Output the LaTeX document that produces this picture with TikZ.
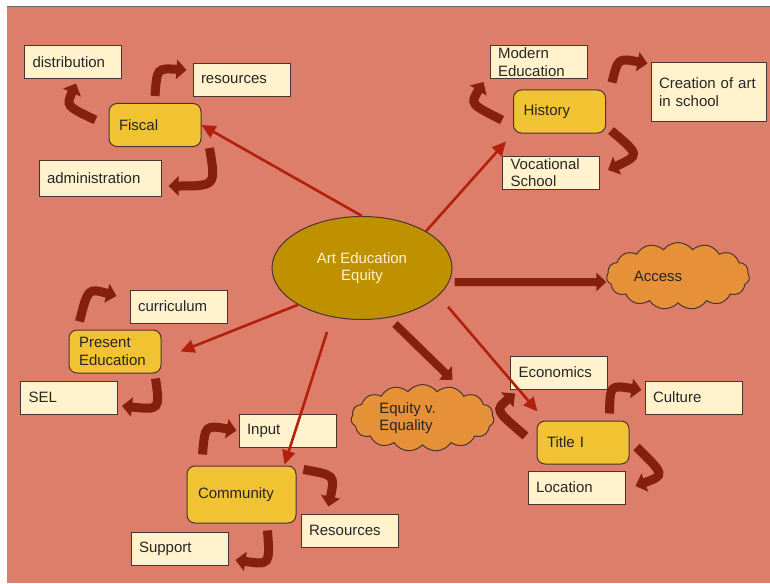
\documentclass[tikz,border=0pt]{standalone}
\usepackage{fontspec}
\setmainfont{Liberation Sans}
\usetikzlibrary{shapes.geometric, shapes.symbols, calc, arrows.meta}
\definecolor{pagecol}{HTML}{DD7E6B}
\definecolor{leafcol}{HTML}{FFF2CC}
\definecolor{topiccol}{HTML}{F1C232}
\definecolor{hubcol}{HTML}{BF9000}
\definecolor{cloudcol}{HTML}{E69138}
\definecolor{bentcol}{HTML}{85200C}
\definecolor{spokecol}{HTML}{B3200C}
\definecolor{edgecol}{HTML}{4A3430}

\begin{document}
\begin{tikzpicture}[x=1pt, y=-1pt, font=\fontsize{15}{17.5}\selectfont, text=black!85,
    leaf/.style={draw=edgecol, line width=1pt, fill=leafcol, inner xsep=8pt, inner ysep=0pt, text width=81pt, minimum height=33pt, align=left},
    topic/.style={draw=edgecol, line width=1pt, fill=topiccol, rounded corners=8pt, inner xsep=10pt, inner ysep=0pt, text width=72pt, minimum height=43pt, align=left},
    puff/.style={cloud, cloud puffs=15, cloud puff arc=105, cloud ignores aspect, draw=edgecol, line width=1pt, fill=cloudcol, inner sep=0pt, minimum width=143pt, minimum height=67pt, align=left},
    spoke/.style={draw=spokecol, line width=2.6pt, -{Triangle[length=14pt, width=13pt]}},
    thickarrow/.style={draw=bentcol, line width=8pt, -{Triangle[length=10pt, width=18pt]}},
    bent/.style={draw=bentcol, line width=9pt, -{Triangle[length=10pt, width=19pt]}}]
    \useasboundingbox (0,0) rectangle (770,583);
    \fill[white] (0,0) rectangle (770,583);
    \fill[pagecol] (7,7) rectangle (770,583);
    \draw[black!60, line width=1pt] (7,6.5) -- (770,6.5);

    \node[leaf] (distribution) at (73,62.5) {distribution};
    \node[leaf] (resources) at (241.5,80) {resources};
    \node[topic] (fiscal) at (155,125) {Fiscal};
    \node[leaf, text width=106pt, minimum height=36pt] (administration) at (100,178) {administration};

    \node[leaf] (modern) at (538.5,62) {Modern\\Education};
    \node[topic] (history) at (559.5,111.5) {History};
    \node[leaf, text width=99pt, minimum height=58pt] (creation) at (708.5,92) {Creation of art\\in school};
    \node[leaf] (vocational) at (551,172.5) {Vocational\\School};

    \node[ellipse, draw=edgecol, line width=1pt, fill=hubcol, minimum width=180pt, minimum height=103pt, inner sep=0pt, text=leafcol, align=center] (equity) at (362,268) {Art Education\\Equity};
    \node[puff] (access) at (678,276) {Access\hspace*{40pt}};

    \node[leaf] (curriculum) at (178.5,306.5) {curriculum};
    \node[topic] (present) at (115,351.5) {Present\\Education};
    \node[leaf] (sel) at (69,397.5) {SEL};

    \node[leaf] (input) at (287.5,430.5) {Input};
    \node[topic, text width=87pt, minimum height=57pt, inner xsep=11pt] (community) at (241.5,494.5) {Community};
    \node[leaf] (resources2) at (349.5,530.5) {Resources};
    \node[leaf] (support) at (179.5,548.5) {Support};

    \node[puff] (equality) at (422.5,418) {Equity v.\hspace*{30pt}\\Equality};
    \node[leaf] (economics) at (559,372.5) {Economics};
    \node[leaf] (culture) at (693.5,397.5) {Culture};
    \node[topic] (titlei) at (583,442.5) {Title I};
    \node[leaf] (location) at (576.5,487.5) {Location};

    \draw[spoke] (equity.north) -- (fiscal.east);
    \draw[spoke] (equity.north east) -- ($(history.south west)+(-7,8)$);
    \draw[spoke] (equity.south west) -- ($(present.east)+(19,0)$);
    \draw[spoke] ($(equity.south)+(-35,12)$) -- ($(community.north east)+(-12,-1)$);
    \draw[spoke] ($(equity.south east)+(22,2)$) -- ($(titlei.north west)+(1,-9)$);

    \draw[thickarrow] ($(equity.east)+(2,14)$) -- ($(access.west)+(0,6)$);
    \draw[thickarrow] ($(equity.south)+(33,4)$) -- ($(equality.north)+(30,-4)$);

    \draw[bent] ($(fiscal.west)+(-13,-5)$) .. controls (66,106) .. ($(distribution.south)+(3,4)$);
    \draw[bent] ($(fiscal.north)+(0,-7)$) .. controls (157,68) .. ($(resources.west)+(-6,-10)$);
    \draw[bent] ($(fiscal.south east)+(8,1)$) .. controls (216,186) .. ($(administration.east)+(7,8)$);

    \draw[bent] ($(history.west)+(-11,8.5)$) .. controls (470,104) .. ($(modern.south west)+(-6,3)$);
    \draw[bent] ($(history.north east)+(6,-7)$) .. controls (618,58) .. ($(creation.north west)+(-3,1)$);
    \draw[bent] ($(history.south east)+(5,-3)$) .. controls (640,155) .. ($(vocational.east)+(8,-2.5)$);

    \draw[bent] ($(present.north west)+(11,-8)$) .. controls (88,288) .. ($(curriculum.west)+(-13,-10.5)$);
    \draw[bent] ($(present.south east)+(-6,5)$) .. controls (160,410) .. ($(sel.east)+(4,8.5)$);

    \draw[bent] ($(community.north west)+(16,-11)$) .. controls (205,425) .. ($(input.west)+(-2,0)$);
    \draw[bent] ($(community.north east)+(7,4)$) .. controls (335,475) .. ($(resources2.north)+(-21,-7)$);
    \draw[bent] ($(community.south)+(26,7)$) .. controls (270,565) .. ($(support.east)+(7,11.5)$);

    \draw[bent] ($(titlei.west)+(-11,-6.5)$) .. controls (495,410) .. ($(economics.south west)+(5,4)$);
    \draw[bent] ($(titlei.north east)+(-20,-7)$) .. controls (610,385) .. ($(culture.west)+(-3,-7.5)$);
    \draw[bent] ($(titlei.east)+(7,4.5)$) .. controls (665,475) .. ($(location.east)+(10,-1.5)$);
\end{tikzpicture}
\end{document}
